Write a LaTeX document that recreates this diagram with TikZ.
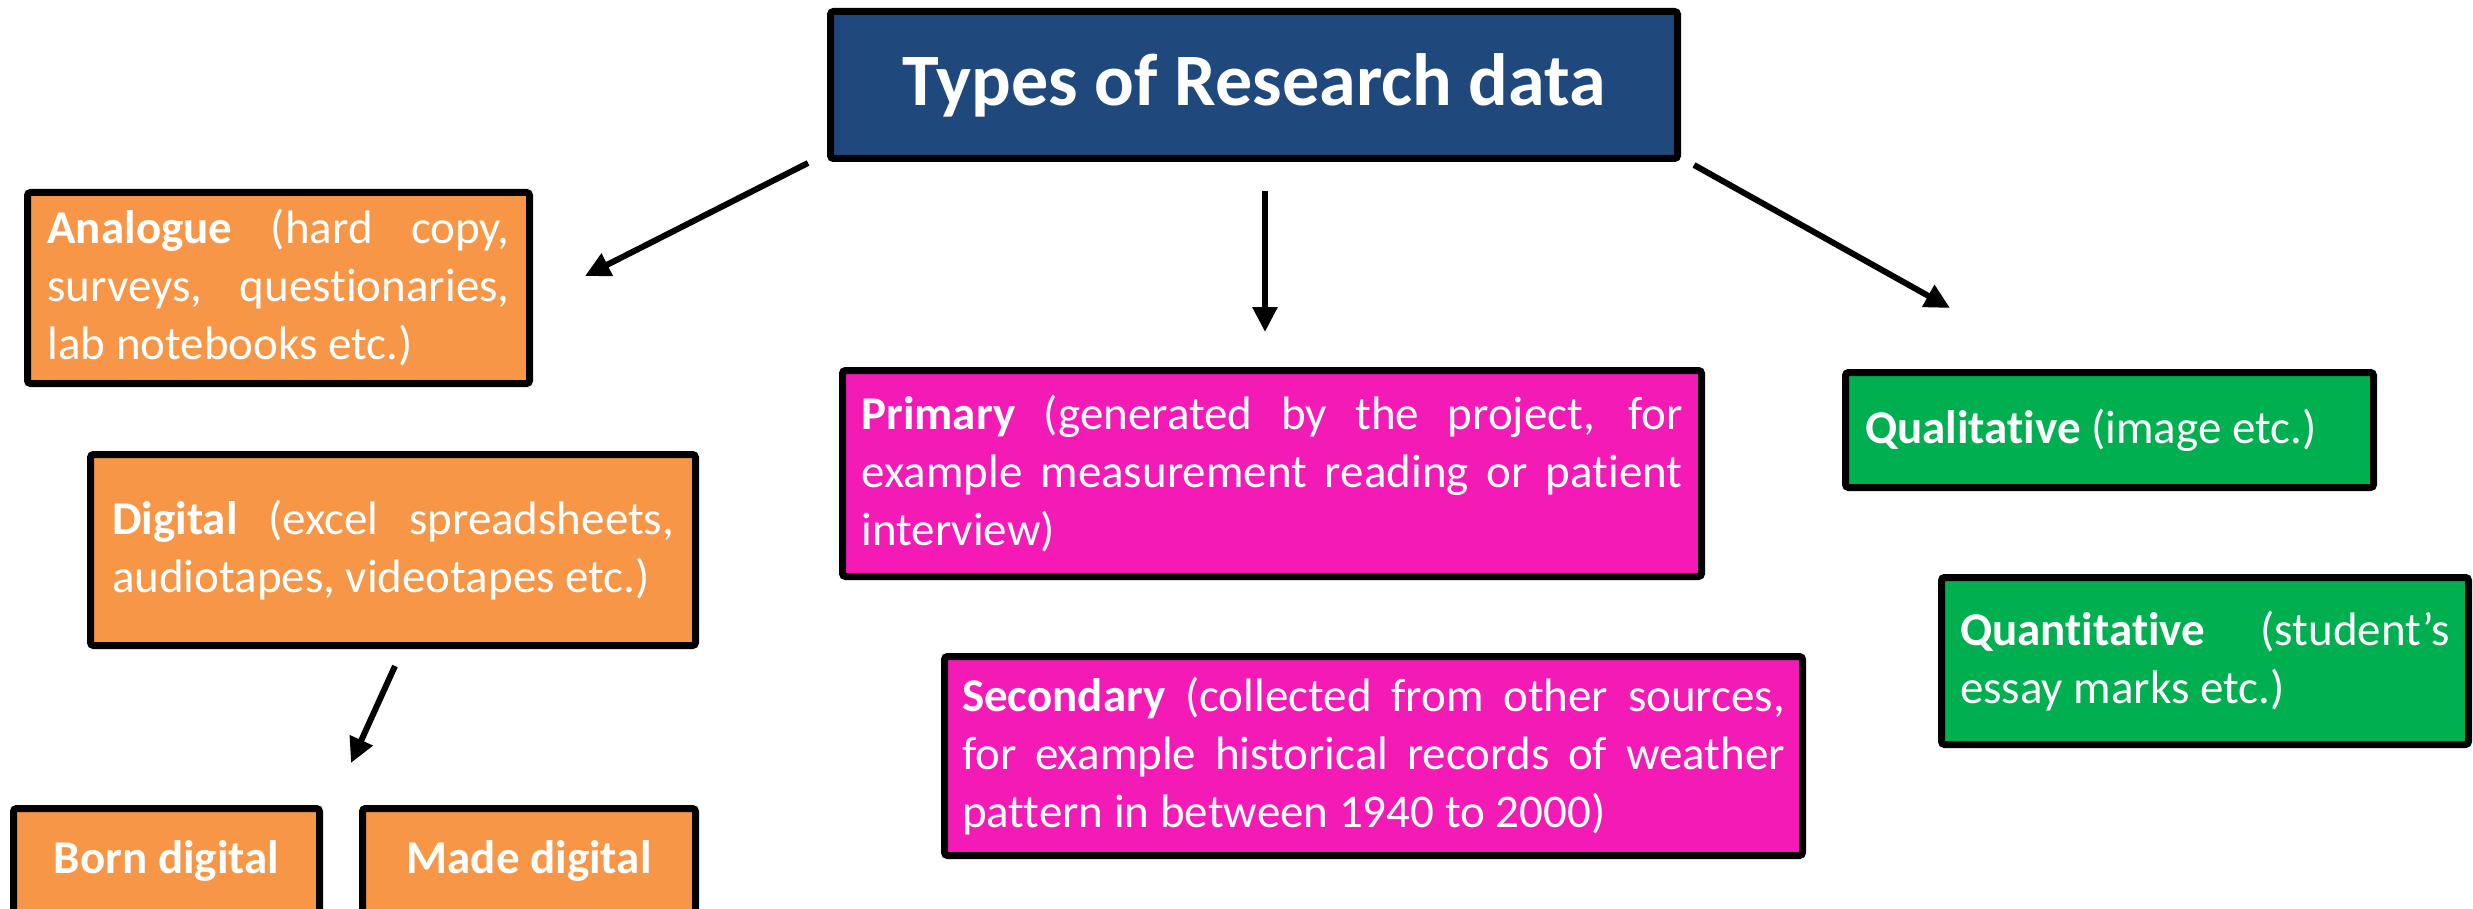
\documentclass[tikz,border=0pt]{standalone}
\usepackage{fontspec}
\setmainfont[Ligatures={TeX,NoCommon}]{Carlito}
\usetikzlibrary{arrows.meta}
\definecolor{headblue}{HTML}{1F497D}
\definecolor{boxorange}{HTML}{F79646}
\definecolor{boxpink}{HTML}{F41AB6}
\definecolor{boxgreen}{HTML}{00B050}
\tolerance=10000
\hbadness=10000

\begin{document}
\begin{tikzpicture}[x=1pt,y=-1pt,
  box/.style={draw=black, line width=7pt, rounded corners=3pt, text=white, inner sep=0pt,
    font=\fontsize{47}{58}\selectfont, align=justify},
  arr/.style={line width=6pt, -{Triangle[length=25pt,width=24pt]}}]
\useasboundingbox (0,0) rectangle (2473,909);
\clip (0,0) rectangle (2473,909);

% top
\node[box, fill=headblue, minimum width=847pt, minimum height=147pt, align=center,
  font=\fontsize{74}{89}\selectfont\bfseries] (types) at (1254,85) {Types of Research data};

% left column
\node[box, fill=boxorange, minimum width=502pt, minimum height=191pt, text width=462pt] (analogue) at (278.5,288)
  {\textbf{Analogue} (hard copy,\linebreak surveys, questionaries,\linebreak lab notebooks etc.)};
\node[box, fill=boxorange, minimum width=605pt, minimum height=191pt, text width=562pt] (digital) at (393,550)
  {\textbf{Digital} (excel spreadsheets,\linebreak audiotapes, videotapes etc.)};
\node[box, fill=boxorange, minimum width=306pt, minimum height=105pt, align=center] (born) at (166.5,861) {\textbf{Born digital}};
\node[box, fill=boxorange, minimum width=333pt, minimum height=105pt, align=center] (made) at (529,861) {\textbf{Made digital}};

% middle column
\node[box, fill=boxpink, minimum width=859pt, minimum height=206pt, text width=821pt] (primary) at (1272,473.5)
  {\textbf{Primary} (generated by the project, for\linebreak example measurement reading or patient\linebreak interview)};
\node[box, fill=boxpink, minimum width=858pt, minimum height=199pt, text width=823pt] (secondary) at (1373.5,756)
  {\textbf{Secondary} (collected from other sources,\linebreak for example historical records of weather\linebreak pattern in between 1940 to 2000)};

% right column
\node[box, fill=boxgreen, minimum width=528pt, minimum height=115pt, text width=489pt] (qualitative) at (2109.5,430)
  {\textbf{Qualitative} (image etc.)};
\node[box, fill=boxgreen, minimum width=527pt, minimum height=167pt, text width=490pt] (quantitative) at (2205,661)
  {\textbf{Quantitative} (student’s\linebreak essay marks etc.)};

% arrows
\draw[arr] ([xshift=-19pt,yshift=-1pt]types.south west) -- ([xshift=52pt,yshift=-87pt]analogue.north east);
\draw[arr] ([xshift=11pt,yshift=-29pt]types.south) -- ([xshift=-7pt,yshift=35pt]primary.north);
\draw[arr] ([xshift=13pt,yshift=-3pt]types.south east) -- ([xshift=108pt,yshift=61pt]qualitative.north west);
\draw[arr] ([xshift=2pt,yshift=-17pt]digital.south) -- ([xshift=-8pt,yshift=42pt]made.north west);
\end{tikzpicture}
\end{document}
